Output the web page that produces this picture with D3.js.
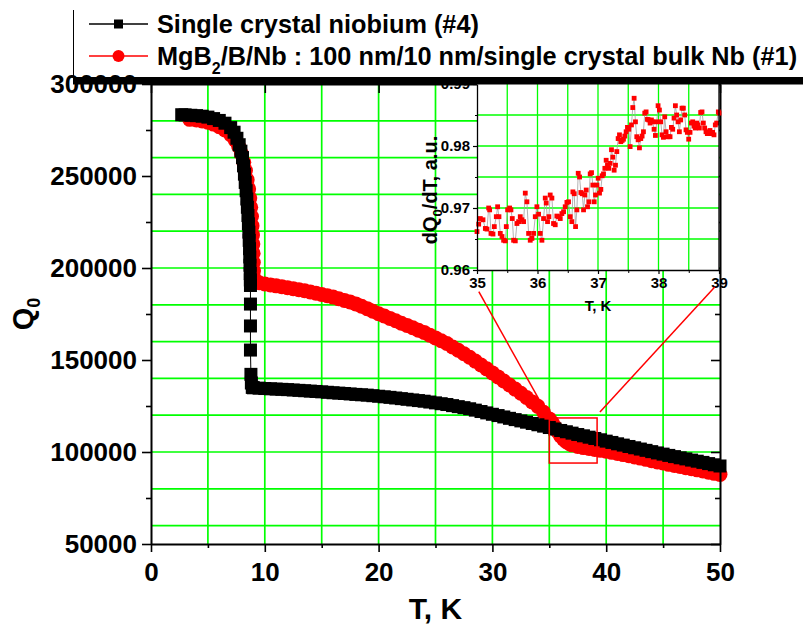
<!DOCTYPE html>
<html><head><meta charset="utf-8">
<script src="https://cdn.jsdelivr.net/npm/d3@7"></script>
<style>
body{margin:0;background:#fff;}
svg{display:block;font-family:"Liberation Sans",Arial,sans-serif;font-weight:bold;}
</style></head><body>
<svg id="c" width="803" height="627"></svg>
<script>
// ---------------- data ----------------
const xTicks=[0,10,20,30,40,50];
const xMinor=[5,15,25,35,45];
const yTicks=[50000,100000,150000,200000,250000,300000];
const yMinor=[75000,125000,175000,225000,275000];
const insetXTicks=[35,36,37,38,39];
const insetXMinor=[35.5,36.5,37.5,38.5];
const insetYTicks=[0.96,0.97,0.98,0.99];
const insetYMinor=[0.965,0.975,0.985];
const legendLabels=["Single crystal niobium (#4)","MgB|2|/B/Nb : 100 nm/10 nm/single crystal bulk Nb (#1)"];

// Single crystal niobium (#4): [T (K), Q0]
const nbData=[[2.7,283300],[3.0,283200],[3.5,283000],[4.0,282800],[4.5,282500],[5.0,282000],[5.5,281200],[6.0,280200],[6.5,278700],[7.0,276300],[7.3,273800],[7.55,270500],[7.75,267000],[7.9,263500],[8.04,260000],[8.13,255500],[8.21,251000],[8.28,246500],[8.36,242000],[8.42,237500],[8.47,233000],[8.52,228500],[8.56,224000],[8.6,219500],[8.63,215000],[8.66,210500],[8.68,206000],[8.7,201500],[8.72,197000],[8.73,193500],[8.74,190500],[8.74,180400],[8.74,168500],[8.74,155400],[8.78,142200],[8.82,137500],[8.9,135100],[9.0,134900],
[9.5,134700],[10,134500],[10.5,134350],[11,134200],[11.5,134050],[12,133900],[12.5,133700],[13,133500],[13.5,133300],[14,133100],[14.5,132900],[15,132700],[15.5,132450],[16,132200],[16.5,132000],[17,131800],[17.5,131550],[18,131300],[18.5,131100],[19,130900],[19.5,130600],[20,130300],[20.5,130000],[21,129700],[21.5,129350],[22,129000],[22.5,128650],[23,128300],[23.5,127950],[24,127600],[24.5,127150],[25,126700],[25.5,126250],[26,125800],[26.5,125200],[27,124650],[27.5,124100],[28,123500],[28.5,122750],[29,122000],[29.5,121250],[30,120500],[30.5,119800],[31,119050],[31.5,118300],[32,117600],[32.5,116900],[33,116200],[33.5,115500],[34,114800],[34.5,114050],[35,113300],[35.5,112500],[36,111700],[36.5,111000],[37,110250],[37.5,109500],[38,108800],[38.5,108050],[39,107350],[39.5,106650],[40,105900],[40.5,105200],[41,104450],[41.5,103750],[42,103000],[42.5,102300],[43,101600],[43.5,100900],[44,100200],[44.5,99500],[45,98850],[45.5,98150],[46,97500],[46.5,96850],[47,96250],[47.5,95600],[48,95000],[48.5,94350],[49,93700],[49.5,93050],[50,92400]];

// MgB2/B/Nb (#1): [T (K), Q0]
const mgData=[[3.4,280800],[4.0,280400],[4.5,279900],[5.0,279200],[5.5,278200],[6.0,276800],[6.5,275000],[7.0,272500],[7.4,269500],[7.7,266000],[7.95,262000],[8.15,257500],[8.3,253000],[8.45,248000],[8.58,243000],[8.68,238000],[8.76,233000],[8.83,228000],[8.88,223000],[8.92,218000],[8.95,213000],[8.97,208000],[8.99,203000],[9.01,198500],[9.04,194500],[9.15,192600],
[9.5,192000],[10,191300],[10.5,190800],[11,190300],[11.5,189800],[12,189300],[12.5,188750],[13,188200],[13.5,187600],[14,187000],[14.5,186300],[15,185600],[15.5,184900],[16,184200],[16.5,183300],[17,182400],[17.5,181500],[18,180500],[18.5,179200],[19,177900],[19.5,176500],[20,175100],[20.5,173900],[21,172600],[21.5,171300],[22,170000],[22.5,168800],[23,167500],[23.5,166200],[24,165000],[24.5,163500],[25,162000],[25.5,160500],[26,159000],[26.5,157100],[27,155300],[27.5,153400],[28,151500],[28.5,149400],[29,147300],[29.5,145200],[30,143000],[30.5,140800],[31,138600],[31.5,136400],[32,134200],[32.5,131900],[33,129600],[33.5,127200],[34,124800],[34.5,121600],[35,118000],[35.25,116000],[35.5,113500],[35.75,111000],[36,108700],[36.25,107000],[36.5,105600],[36.75,104600],[37,103900],[37.5,103000],[38,102400],[38.5,101900],[39,101400],[39.5,100900],[40,100400],[40.5,99800],[41,99200],[41.5,98600],[42,98000],[42.5,97300],[43,96700],[43.5,96000],[44,95300],[44.5,94600],[45,94000],[45.5,93300],[46,92700],[46.5,92100],[47,91500],[47.5,90900],[48,90300],[48.5,89700],[49,89000],[49.5,88400],[50,87800]];

// inset: dQ0/dT (a.u.) vs T (K)
const insetData=[[35.000,0.9662],[35.028,0.9674],[35.055,0.9683],[35.099,0.9681],[35.138,0.9667],[35.165,0.9666],[35.193,0.9700],[35.209,0.9697],[35.231,0.9659],[35.264,0.9658],[35.286,0.9670],[35.319,0.9686],[35.341,0.9702],[35.363,0.9686],[35.385,0.9659],[35.413,0.9654],[35.440,0.9648],[35.468,0.9647],[35.484,0.9670],[35.506,0.9697],[35.539,0.9700],[35.561,0.9697],[35.583,0.9683],[35.605,0.9648],[35.633,0.9647],[35.660,0.9675],[35.688,0.9678],[35.715,0.9686],[35.743,0.9681],[35.770,0.9678],[35.798,0.9724],[35.825,0.9710],[35.853,0.9659],[35.880,0.9648],[35.908,0.9651],[35.935,0.9659],[35.963,0.9686],[35.990,0.9702],[36.018,0.9690],[36.045,0.9659],[36.073,0.9648],[36.100,0.9683],[36.128,0.9716],[36.144,0.9708],[36.166,0.9678],[36.188,0.9686],[36.210,0.9721],[36.238,0.9716],[36.265,0.9675],[36.293,0.9673],[36.320,0.9687],[36.348,0.9686],[36.376,0.9683],[36.403,0.9691],[36.431,0.9694],[36.458,0.9702],[36.486,0.9709],[36.513,0.9710],[36.541,0.9686],[36.568,0.9678],[36.585,0.9726],[36.607,0.9723],[36.629,0.9670],[36.651,0.9697],[36.673,0.9756],[36.695,0.9750],[36.717,0.9725],[36.739,0.9723],[36.761,0.9697],[36.783,0.9721],[36.805,0.9729],[36.827,0.9702],[36.849,0.9710],[36.871,0.9755],[36.893,0.9757],[36.915,0.9737],[36.937,0.9710],[36.959,0.9721],[36.981,0.9737],[37.003,0.9748],[37.025,0.9724],[37.047,0.9730],[37.069,0.9752],[37.091,0.9755],[37.113,0.9764],[37.135,0.9777],[37.157,0.9769],[37.179,0.9764],[37.201,0.9772],[37.223,0.9794],[37.245,0.9782],[37.267,0.9761],[37.289,0.9769],[37.311,0.9791],[37.333,0.9812],[37.355,0.9818],[37.377,0.9807],[37.399,0.9809],[37.421,0.9811],[37.443,0.9816],[37.465,0.9823],[37.487,0.9830],[37.509,0.9827],[37.531,0.9799],[37.553,0.9834],[37.575,0.9862],[37.597,0.9877],[37.619,0.9839],[37.641,0.9815],[37.663,0.9810],[37.685,0.9797],[37.707,0.9812],[37.729,0.9816],[37.751,0.9823],[37.773,0.9853],[37.795,0.9855],[37.817,0.9843],[37.839,0.9842],[37.861,0.9837],[37.883,0.9842],[37.905,0.9839],[37.927,0.9827],[37.949,0.9817],[37.971,0.9839],[37.993,0.9865],[38.015,0.9858],[38.037,0.9839],[38.059,0.9818],[38.081,0.9814],[38.103,0.9847],[38.125,0.9823],[38.147,0.9815],[38.169,0.9815],[38.191,0.9815],[38.213,0.9830],[38.235,0.9827],[38.257,0.9845],[38.279,0.9865],[38.301,0.9850],[38.323,0.9839],[38.345,0.9823],[38.367,0.9842],[38.389,0.9861],[38.411,0.9861],[38.433,0.9850],[38.455,0.9826],[38.477,0.9822],[38.499,0.9811],[38.521,0.9822],[38.543,0.9837],[38.565,0.9839],[38.587,0.9832],[38.609,0.9829],[38.631,0.9837],[38.653,0.9834],[38.675,0.9829],[38.697,0.9854],[38.719,0.9855],[38.741,0.9837],[38.763,0.9829],[38.785,0.9823],[38.807,0.9820],[38.829,0.9820],[38.851,0.9825],[38.873,0.9820],[38.895,0.9822],[38.917,0.9818],[38.939,0.9834],[38.961,0.9837],[38.989,0.9855],[39.000,0.9853]];

// zoom box (main coords) and connector ends
const zoomBox={t0:35,t1:39.2,q0:94000,q1:118500};
const connectors=[{main:[35,118500],inset:[35.03,0.9565]},{main:[39.45,121800],inset:[38.93,0.95726]}];

// ---------------- drawing ----------------
const svg=d3.select("#c");
const GREEN="#00ff00";
const x=d3.scaleLinear().domain([0,50]).range([151,720]);
const y=d3.scaleLinear().domain([50000,300000]).range([544,84]);

// main grid
const grid=svg.append("g");
grid.selectAll("line.v").data(x.ticks(10).filter(d=>d>0&&d<50)).join("line")
  .attr("x1",d=>x(d)).attr("x2",d=>x(d)).attr("y1",y(50000)).attr("y2",y(300000))
  .attr("stroke",GREEN).attr("stroke-width",1.7);
grid.selectAll("line.h").data(y.ticks(10).filter(d=>d>50000&&d<300000)).join("line")
  .attr("x1",x(0)).attr("x2",x(50)).attr("y1",d=>y(d)).attr("y2",d=>y(d))
  .attr("stroke",GREEN).attr("stroke-width",1.7);

// series
function series(data,color,shape,size){
  const g=svg.append("g");
  g.append("path").datum(data)
    .attr("d",d3.line().x(d=>x(d[0])).y(d=>y(d[1])))
    .attr("fill","none").attr("stroke",color).attr("stroke-width",1);
  if(shape==="circle"){
    g.selectAll("circle").data(data).join("circle")
      .attr("cx",d=>x(d[0])).attr("cy",d=>y(d[1])).attr("r",size/2).attr("fill",color);
  }else{
    g.selectAll("rect").data(data).join("rect")
      .attr("x",d=>x(d[0])-size/2).attr("y",d=>y(d[1])-size/2)
      .attr("width",size).attr("height",size).attr("fill",color);
  }
}
series(mgData,"#ff0000","circle",15);
series(nbData,"#000000","square",13);

// axes
function styleAxis(g,fs){
  g.attr("font-family",null).attr("font-size",fs).attr("font-weight","bold");
  g.selectAll("path.domain").attr("stroke","#000").attr("stroke-width",2);
  g.selectAll(".tick line").attr("stroke","#000").attr("stroke-width",1.6);
  g.selectAll("text").attr("fill","#000");
}
const fmt=d3.format("d");
// minor ticks
svg.append("g").attr("transform",`translate(${x(0)},0)`)
  .call(d3.axisLeft(y).tickValues(yMinor).tickSize(5).tickFormat(""))
  .call(g=>{g.select(".domain").remove();styleAxis(g,10);});
svg.append("g").attr("transform",`translate(0,${y(50000)})`)
  .call(d3.axisBottom(x).tickValues(xMinor).tickSize(4).tickFormat(""))
  .call(g=>{g.select(".domain").remove();styleAxis(g,10);});
svg.append("g").attr("transform",`translate(${x(50)},0)`)
  .call(d3.axisRight(y).tickValues(yMinor).tickSize(-5).tickFormat(""))
  .call(g=>{g.select(".domain").remove();styleAxis(g,10);});
// major
svg.append("g").attr("transform",`translate(${x(0)},0)`)
  .call(d3.axisLeft(y).tickValues(yTicks).tickSize(9).tickSizeOuter(0).tickPadding(5).tickFormat(fmt))
  .call(g=>styleAxis(g,26));
svg.append("g").attr("transform",`translate(0,${y(50000)})`)
  .call(d3.axisBottom(x).tickValues(xTicks).tickSize(8).tickSizeOuter(0).tickPadding(11).tickFormat(fmt))
  .call(g=>styleAxis(g,26));
svg.append("g").attr("transform",`translate(${x(50)},0)`)
  .call(d3.axisRight(y).tickValues(yTicks).tickSize(-9).tickSizeOuter(0).tickFormat(""))
  .call(g=>styleAxis(g,10));
svg.append("g").attr("transform",`translate(0,${y(300000)})`)
  .call(d3.axisTop(x).tickValues(xTicks).tickSize(-9).tickSizeOuter(0).tickFormat(""))
  .call(g=>styleAxis(g,10));

// axis titles
svg.append("text").attr("x",(x(0)+x(50))/2).attr("y",619).attr("text-anchor","middle")
  .attr("font-size",30).text("T, K");
const qt=svg.append("text").attr("transform",`translate(33,${(y(50000)+y(300000))/2})rotate(-90)`)
  .attr("text-anchor","middle").attr("font-size",29);
qt.append("tspan").text("Q");
qt.append("tspan").attr("font-size",18).attr("dy",7).text("0");

// ---------------- inset ----------------
const xi=d3.scaleLinear().domain([35,39]).range([477,719]);
const yi=d3.scaleLinear().domain([0.96,0.99]).range([270,84]);
const ins=svg.append("g");
ins.append("rect").attr("x",xi(35)).attr("y",yi(0.99)).attr("width",xi(39)-xi(35)).attr("height",yi(0.96)-yi(0.99)).attr("fill","#fff");
ins.selectAll("line.v").data(insetXMinor.concat([36,37,38])).join("line")
  .attr("x1",d=>xi(d)).attr("x2",d=>xi(d)).attr("y1",yi(0.96)).attr("y2",yi(0.99))
  .attr("stroke",GREEN).attr("stroke-width",1.3);
ins.selectAll("line.h").data(insetYMinor.concat([0.97,0.98])).join("line")
  .attr("x1",xi(35)).attr("x2",xi(39)).attr("y1",d=>yi(d)).attr("y2",d=>yi(d))
  .attr("stroke",GREEN).attr("stroke-width",1.3);
ins.append("path").datum(insetData)
  .attr("d",d3.line().x(d=>xi(d[0])).y(d=>yi(d[1])))
  .attr("fill","none").attr("stroke","#a0a0a0").attr("stroke-width",0.8);
ins.selectAll("rect.p").data(insetData).join("rect").attr("class","p")
  .attr("x",d=>xi(d[0])-2.4).attr("y",d=>yi(d[1])-2.4).attr("width",4.8).attr("height",4.8)
  .attr("fill","#ff0000");
// inset axes
ins.append("g").attr("transform",`translate(${xi(35)},0)`)
  .call(d3.axisLeft(yi).tickValues(insetYMinor).tickSize(2).tickFormat(""))
  .call(g=>{g.select(".domain").remove();styleAxis(g,10);g.selectAll(".tick line").attr("stroke-width",1);});
ins.append("g").attr("transform",`translate(0,${yi(0.96)})`)
  .call(d3.axisBottom(xi).tickValues(insetXMinor).tickSize(3).tickFormat(""))
  .call(g=>{g.select(".domain").remove();styleAxis(g,10);g.selectAll(".tick line").attr("stroke-width",1);});
ins.append("g").attr("transform",`translate(${xi(35)},0)`)
  .call(d3.axisLeft(yi).tickValues(insetYTicks).tickSize(4).tickSizeOuter(0).tickPadding(3).tickFormat(d3.format(".2f")))
  .call(g=>{styleAxis(g,15);g.selectAll("path.domain").attr("stroke-width",1.3);g.selectAll(".tick line").attr("stroke-width",1.2);});
ins.append("g").attr("transform",`translate(0,${yi(0.96)})`)
  .call(d3.axisBottom(xi).tickValues(insetXTicks).tickSize(4).tickSizeOuter(0).tickPadding(3).tickFormat(fmt))
  .call(g=>{styleAxis(g,15);g.selectAll("path.domain").attr("stroke-width",1.3);g.selectAll(".tick line").attr("stroke-width",1.2);});
ins.append("line").attr("x1",xi(39)).attr("x2",xi(39)).attr("y1",yi(0.96)).attr("y2",yi(0.99))
  .attr("stroke","#000").attr("stroke-width",1.3);
ins.append("text").attr("x",(xi(35)+xi(39))/2).attr("y",311).attr("text-anchor","middle")
  .attr("font-size",15).text("T, K");
const it=ins.append("text").attr("transform",`translate(437,${(yi(0.96)+yi(0.99))/2+13})rotate(-90)`)
  .attr("text-anchor","middle").attr("font-size",20);
it.append("tspan").text("dQ");
it.append("tspan").attr("font-size",13).attr("dy",5).text("0");
it.append("tspan").attr("dy",-5).text("/dT, a.u.");

// zoom box and connectors
svg.append("rect").attr("x",x(zoomBox.t0)).attr("y",y(zoomBox.q1))
  .attr("width",x(zoomBox.t1)-x(zoomBox.t0)).attr("height",y(zoomBox.q0)-y(zoomBox.q1))
  .attr("fill","none").attr("stroke","#ff0000").attr("stroke-width",1.5);
svg.selectAll("line.conn").data(connectors).join("line")
  .attr("x1",d=>x(d.main[0])).attr("y1",d=>y(d.main[1]))
  .attr("x2",d=>xi(d.inset[0])).attr("y2",d=>yi(d.inset[1]))
  .attr("stroke","#ff0000").attr("stroke-width",1.5);

// ---------------- legend ----------------
const lg=svg.append("g");
lg.append("line").attr("x1",73.5).attr("x2",73.5).attr("y1",10).attr("y2",80).attr("stroke","#000").attr("stroke-width",1);
lg.append("rect").attr("x",73).attr("y",77).attr("width",730).attr("height",7.5).attr("fill","#000");
const rows=[{c:"#000",shape:"square",yy:24},{c:"#ff0000",shape:"circle",yy:56}];
rows.forEach((r,i)=>{
  lg.append("line").attr("x1",89).attr("x2",148).attr("y1",r.yy).attr("y2",r.yy).attr("stroke",r.c).attr("stroke-width",1.5);
  if(r.shape==="square") lg.append("rect").attr("x",114).attr("y",r.yy-4.5).attr("width",9).attr("height",9).attr("fill",r.c);
  else lg.append("circle").attr("cx",118.5).attr("cy",r.yy).attr("r",6).attr("fill",r.c);
  const t=lg.append("text").attr("x",157).attr("y",r.yy+9).attr("font-size",25.3);
  const parts=legendLabels[i].split("|");
  parts.forEach((p,j)=>{
    if(j%2===1) t.append("tspan").attr("font-size",16).attr("dy",9).text(p);
    else t.append("tspan").attr("dy",j>0?-9:0).text(p);
  });
});
</script>
</body></html>
